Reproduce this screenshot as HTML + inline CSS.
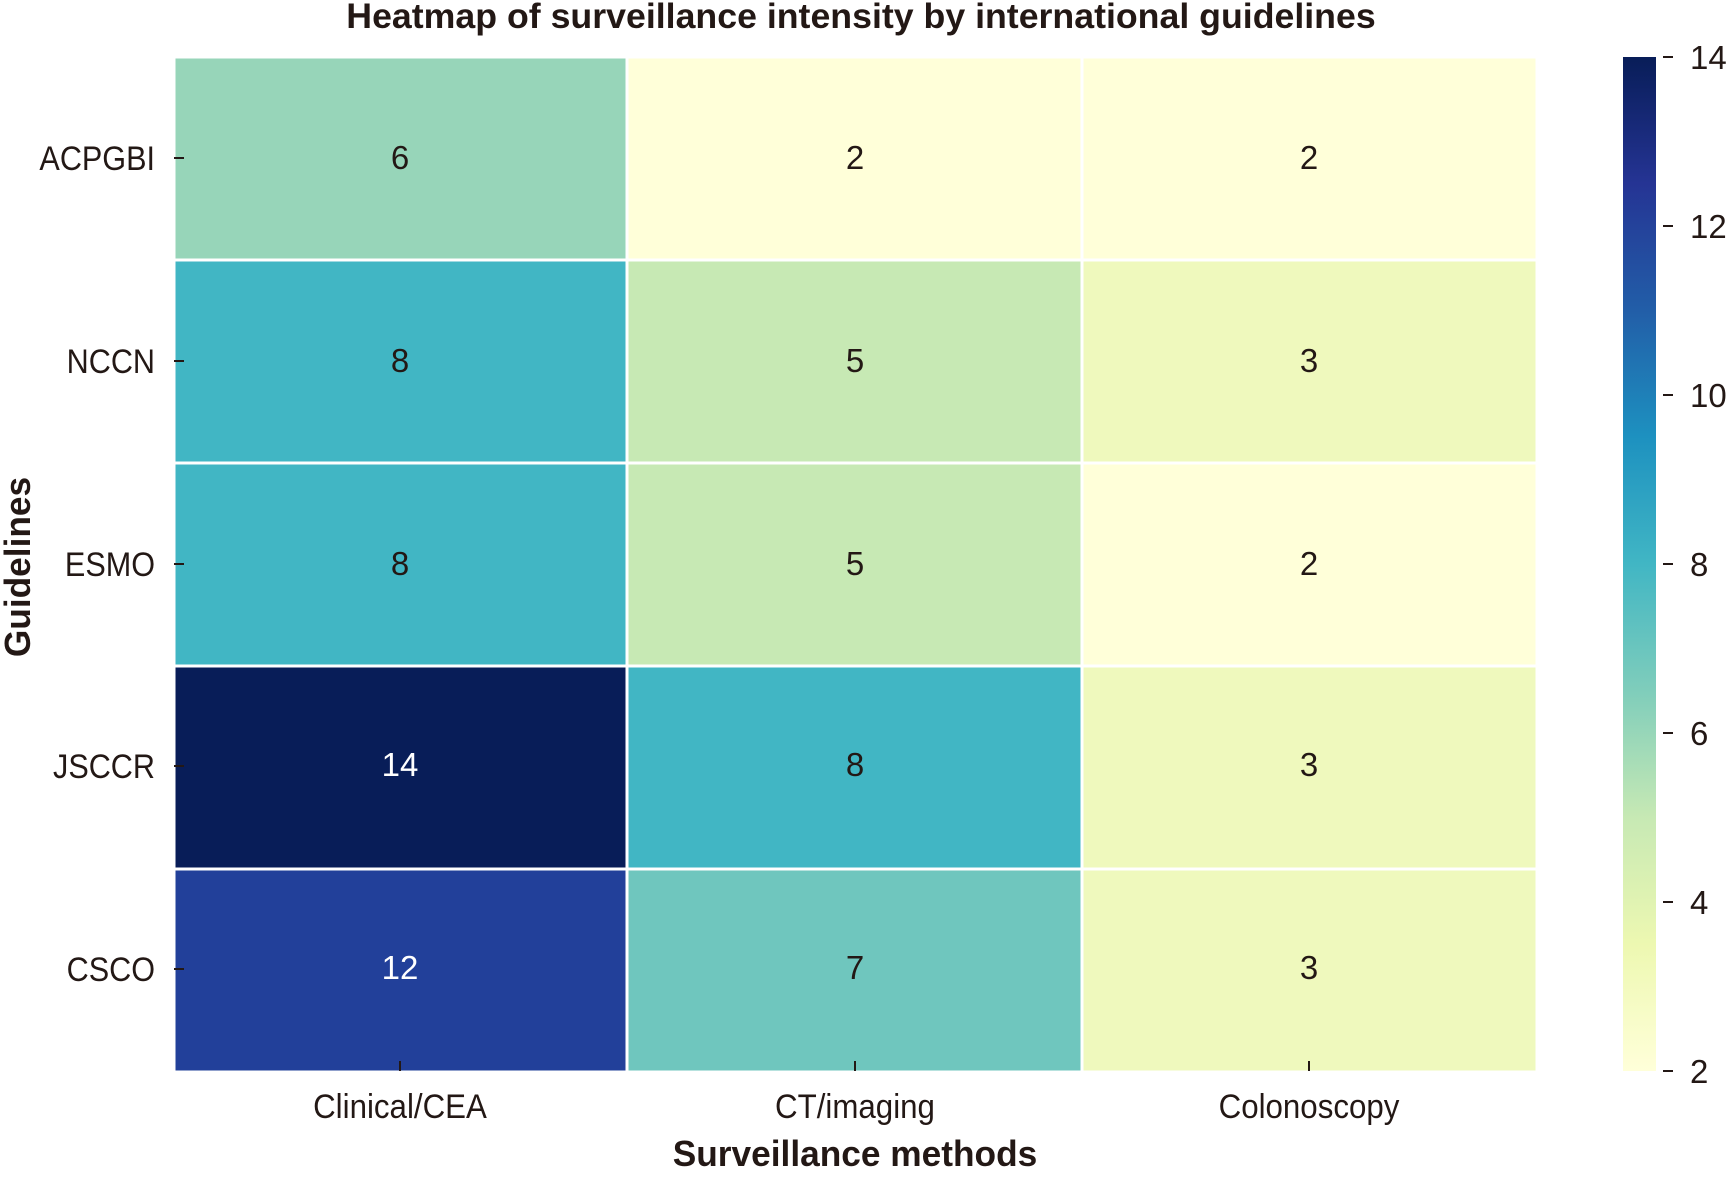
<!DOCTYPE html>
<html><head><meta charset="utf-8"><style>
html,body{margin:0;padding:0;background:#fff;}
svg{display:block;}
text{font-family:"Liberation Sans",sans-serif;fill:#231815;}
</style></head><body>
<svg width="1731" height="1177" viewBox="0 0 1731 1177" xmlns="http://www.w3.org/2000/svg">
<defs>
<linearGradient id="cb" x1="0" y1="1" x2="0" y2="0">
<stop offset="0" stop-color="#ffffd9"/>
<stop offset="0.125" stop-color="#edf8b1"/>
<stop offset="0.25" stop-color="#c7e9b4"/>
<stop offset="0.375" stop-color="#7fcdbb"/>
<stop offset="0.5" stop-color="#41b6c4"/>
<stop offset="0.625" stop-color="#1d91c0"/>
<stop offset="0.75" stop-color="#225ea8"/>
<stop offset="0.875" stop-color="#253494"/>
<stop offset="1" stop-color="#081d58"/>
</linearGradient>
</defs>
<text x="861" y="28" text-anchor="middle" font-size="35" font-weight="bold" transform="translate(861 0) scale(1.02 1) translate(-861 0)">Heatmap of surveillance intensity by international guidelines</text>
<g stroke="#fff" stroke-width="3">
<rect x="174" y="57" width="453" height="203" fill="#97d5b9"/>
<rect x="627" y="57" width="455" height="203" fill="#ffffd9"/>
<rect x="1082" y="57" width="455" height="203" fill="#ffffd9"/>
<rect x="174" y="260" width="453" height="203" fill="#41b6c4"/>
<rect x="627" y="260" width="455" height="203" fill="#c7e9b4"/>
<rect x="1082" y="260" width="455" height="203" fill="#eff9bd"/>
<rect x="174" y="463" width="453" height="203" fill="#41b6c4"/>
<rect x="627" y="463" width="455" height="203" fill="#c7e9b4"/>
<rect x="1082" y="463" width="455" height="203" fill="#ffffd9"/>
<rect x="174" y="666" width="453" height="203" fill="#081d58"/>
<rect x="627" y="666" width="455" height="203" fill="#41b6c4"/>
<rect x="1082" y="666" width="455" height="203" fill="#eff9bd"/>
<rect x="174" y="869" width="453" height="203" fill="#22409a"/>
<rect x="627" y="869" width="455" height="203" fill="#6fc6be"/>
<rect x="1082" y="869" width="455" height="203" fill="#eff9bd"/>
</g>
<g font-size="33" text-anchor="middle">
<text x="400" y="169">6</text><text x="855" y="169">2</text><text x="1309" y="169">2</text>
<text x="400" y="372">8</text><text x="855" y="372">5</text><text x="1309" y="372">3</text>
<text x="400" y="575">8</text><text x="855" y="575">5</text><text x="1309" y="575">2</text>
<text x="400" y="776" style="fill:#fff">14</text><text x="855" y="776">8</text><text x="1309" y="776">3</text>
<text x="400" y="979" style="fill:#fff">12</text><text x="855" y="979">7</text><text x="1309" y="979">3</text>
</g>
<g stroke="#231815" stroke-width="2">
<line x1="174" y1="158" x2="184" y2="158"/><line x1="174" y1="361" x2="184" y2="361"/><line x1="174" y1="564" x2="184" y2="564"/><line x1="174" y1="766" x2="184" y2="766"/><line x1="174" y1="969" x2="184" y2="969"/>
<line x1="400" y1="1061" x2="400" y2="1071"/><line x1="855" y1="1061" x2="855" y2="1071"/><line x1="1309" y1="1061" x2="1309" y2="1071"/>
</g>
<g font-size="34" text-anchor="end">
<text x="155" y="170" transform="translate(155 0) scale(0.9 1) translate(-155 0)">ACPGBI</text>
<text x="155" y="373" transform="translate(155 0) scale(0.9 1) translate(-155 0)">NCCN</text>
<text x="155" y="576" transform="translate(155 0) scale(0.9 1) translate(-155 0)">ESMO</text>
<text x="155" y="778" transform="translate(155 0) scale(0.9 1) translate(-155 0)">JSCCR</text>
<text x="155" y="981" transform="translate(155 0) scale(0.9 1) translate(-155 0)">CSCO</text>
</g>
<g font-size="34" text-anchor="middle">
<text x="400" y="1118" transform="translate(400 0) scale(0.92 1) translate(-400 0)">Clinical/CEA</text>
<text x="855" y="1118" transform="translate(855 0) scale(0.92 1) translate(-855 0)">CT/imaging</text>
<text x="1309" y="1118" transform="translate(1309 0) scale(0.92 1) translate(-1309 0)">Colonoscopy</text>
</g>
<text x="855" y="1166" text-anchor="middle" font-size="36" font-weight="bold" transform="translate(855 0) scale(0.98 1) translate(-855 0)">Surveillance methods</text>
<text x="0" y="0" text-anchor="middle" font-size="36" font-weight="bold" transform="translate(30 567) rotate(-90) scale(0.98 1)">Guidelines</text>
<rect x="1623" y="57" width="33" height="1014" fill="url(#cb)"/>
<g stroke="#231815" stroke-width="2">
<line x1="1663" y1="57" x2="1673" y2="57"/><line x1="1663" y1="226" x2="1673" y2="226"/><line x1="1663" y1="395" x2="1673" y2="395"/><line x1="1663" y1="564" x2="1673" y2="564"/><line x1="1663" y1="733" x2="1673" y2="733"/><line x1="1663" y1="902" x2="1673" y2="902"/><line x1="1663" y1="1071" x2="1673" y2="1071"/>
</g>
<g font-size="33">
<text x="1690" y="69">14</text><text x="1690" y="238">12</text><text x="1690" y="407">10</text><text x="1690" y="576">8</text><text x="1690" y="745">6</text><text x="1690" y="914">4</text><text x="1690" y="1083">2</text>
</g>
</svg>
</body></html>
